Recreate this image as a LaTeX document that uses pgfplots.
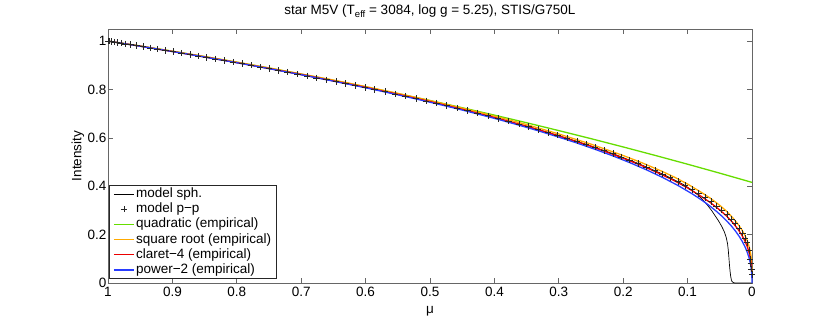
\documentclass[border=0pt]{standalone}
\usepackage{pgfplots}
\usepackage{pgfplotstable}
\pgfplotsset{compat=1.18}
\usepackage{fontspec}
\setmainfont{Liberation Sans}
\definecolor{cgreen}{RGB}{102,221,0}
\definecolor{corange}{RGB}{255,170,0}
\definecolor{cred}{RGB}{235,0,0}
\definecolor{cblue}{RGB}{40,60,255}
\newcommand{\fs}{\fontsize{13.5}{16}\selectfont}

% model plane-parallel (crosses)
\pgfplotstableread{
mu I
1.000 1.000
0.998 0.9992
0.995 0.9979
0.991 0.9962
0.986 0.9941
0.980 0.9916
0.973 0.9886
0.965 0.9851
0.956 0.9813
0.946 0.9770
0.935 0.9722
0.923 0.9669
0.911 0.9616
0.899 0.9563
0.886 0.9504
0.873 0.9446
0.860 0.9386
0.847 0.9326
0.834 0.9266
0.820 0.9200
0.806 0.9134
0.792 0.9067
0.778 0.9000
0.764 0.8931
0.750 0.8862
0.736 0.8792
0.721 0.8716
0.706 0.8640
0.691 0.8562
0.676 0.8484
0.661 0.8404
0.646 0.8323
0.631 0.8242
0.616 0.8159
0.601 0.8075
0.586 0.8000
0.570 0.7911
0.554 0.7819
0.538 0.7726
0.522 0.7629
0.506 0.7532
0.490 0.7433
0.474 0.7334
0.458 0.7232
0.442 0.7128
0.426 0.7023
0.410 0.6915
0.394 0.6804
0.378 0.6690
0.362 0.6574
0.347 0.6462
0.332 0.6347
0.317 0.6229
0.302 0.6108
0.287 0.5985
0.272 0.5859
0.258 0.5738
0.244 0.5612
0.230 0.5482
0.216 0.5348
0.203 0.5218
0.190 0.5084
0.177 0.4946
0.164 0.4802
0.151 0.4650
0.139 0.4505
0.127 0.4351
0.115 0.4190
0.104 0.4032
0.093 0.3866
0.083 0.3703
0.073 0.3531
0.064 0.3366
0.055 0.3190
0.047 0.3018
0.039 0.2833
0.032 0.2650
0.026 0.2471
0.020 0.2264
0.015 0.2064
0.011 0.1865
0.008 0.1666
0.005 0.1350
0.003 0.1000
0.002 0.0800
0.001 0.0580
0.000 0.0350
}\pp

% model spherical
\pgfplotstableread{
mu I
1.000 1.000
0.980 0.9916
0.956 0.9813
0.923 0.9669
0.886 0.9504
0.847 0.9326
0.806 0.9134
0.764 0.8931
0.721 0.8716
0.676 0.8484
0.631 0.8242
0.586 0.8000
0.538 0.7726
0.490 0.7433
0.442 0.7128
0.394 0.6804
0.347 0.6462
0.302 0.6108
0.258 0.5738
0.216 0.5348
0.177 0.4946
0.139 0.4505
0.115 0.4190
0.104 0.4032
0.093 0.3830
0.083 0.3620
0.075 0.3400
0.068 0.3180
0.062 0.2970
0.057 0.2770
0.052 0.2570
0.047 0.2340
0.043 0.2120
0.040 0.1880
0.038 0.1630
0.037 0.1400
0.036 0.1100
0.035 0.0750
0.034 0.0470
0.033 0.0260
0.032 0.0130
0.031 0.0060
0.029 0.0020
0.027 0.0000
0.000 0.0000
}\sph

% quadratic
\pgfplotstableread{
mu I
1.00 1.0000
0.95 0.9796
0.90 0.9583
0.85 0.9360
0.80 0.9128
0.75 0.8887
0.70 0.8637
0.65 0.8377
0.60 0.8108
0.55 0.7830
0.50 0.7543
0.45 0.7246
0.40 0.6940
0.35 0.6625
0.30 0.6300
0.25 0.5967
0.20 0.5624
0.15 0.5272
0.10 0.4911
0.05 0.4540
0.00 0.4160
}\quadr

% square root, claret-4
\pgfplotstableread{
mu sqr cl
1.000 1.000 1.000
0.950 0.9795 0.9790
0.900 0.958 0.957
0.850 0.936 0.9345
0.800 0.913 0.911
0.750 0.889 0.8867
0.700 0.864 0.862
0.650 0.839 0.8355
0.600 0.812 0.809
0.550 0.784 0.7800
0.500 0.754 0.750
0.450 0.723 0.718
0.400 0.690 0.684
0.350 0.655 0.648
0.300 0.616 0.608
0.250 0.574 0.565
0.200 0.527 0.516
0.170 0.496 0.484
0.140 0.462 0.448
0.120 0.437 0.422
0.100 0.409 0.393
0.080 0.377 0.360
0.065 0.351 0.333
0.050 0.321 0.302
0.040 0.298 0.278
0.030 0.270 0.250
0.022 0.244 0.223
0.016 0.221 0.199
0.011 0.197 0.174
0.007 0.172 0.148
0.004 0.146 0.120
0.002 0.120 0.092
0.001 0.100 0.070
0.000 0.050 0.020
}\emp

% power-2
\pgfplotstableread{
mu I
1.000 1.000
0.991 0.9962
0.980 0.9916
0.965 0.9851
0.946 0.9770
0.923 0.9669
0.899 0.9563
0.873 0.9446
0.847 0.9326
0.820 0.9200
0.792 0.9067
0.764 0.8931
0.736 0.8792
0.706 0.8640
0.676 0.8484
0.646 0.8323
0.616 0.8159
0.586 0.7990
0.554 0.7803
0.522 0.7610
0.490 0.7411
0.458 0.7204
0.426 0.6988
0.394 0.6763
0.362 0.6526
0.332 0.6293
0.302 0.6048
0.272 0.5788
0.244 0.5530
0.216 0.5254
0.190 0.4978
0.164 0.4680
0.139 0.4366
0.115 0.4032
0.093 0.3688
0.083 0.3516
0.073 0.3331
0.064 0.3152
0.055 0.2958
0.047 0.2769
0.039 0.2560
0.032 0.2356
0.026 0.2159
0.020 0.1934
0.015 0.1714
0.011 0.1505
0.008 0.1316
0.005 0.1080
0.003 0.0872
0.002 0.0735
0.001 0.0550
0.0005 0.0410
0.0002 0.0280
0.000 0.0000
}\pow

\begin{document}
\begin{tikzpicture}
\useasboundingbox (-108pt,-36pt) rectangle (722pt,283pt);
\begin{axis}[
  at={(0,0)}, anchor=south west,
  scale only axis, width=644pt, height=254pt,
  xmin=0, xmax=1, ymin=0, ymax=1.05, x dir=reverse,
  clip=false,
  xtick={0,0.1,0.2,0.3,0.4,0.5,0.6,0.7,0.8,0.9,1},
  ytick={0,0.2,0.4,0.6,0.8,1},
  /pgf/number format/assume math mode=true,
  tick align=inside, major tick length=5pt,
  axis line style={black!60, line width=0.8pt},
  tick style={black!60, line width=0.6pt},
  tick label style={font=\fs},
  yticklabel style={inner xsep=1.5pt},
  xticklabel style={inner ysep=4pt},
  label style={font=\fs},
  xlabel={μ},
  xlabel style={at={(axis description cs:0.5,0)}, anchor=base, yshift=-30pt},
  ylabel={Intensity},
  ylabel style={at={(axis description cs:-0.0466,0.5)}, anchor=center, rotate=0},
  every axis title shift=0pt,
  title={star M5V (T\raisebox{-0.45ex}{\fontsize{9.5}{10}\selectfont eff} = 3084, log g = 5.25), STIS/G750L},
  title style={font=\fs, at={(axis description cs:0.5,1)}, anchor=base, yshift=15pt},
  legend cell align=left,
  legend image code/.code={\draw[mark repeat=2,mark phase=2,#1] plot coordinates {(0pt,0pt) (10pt,0pt) (20pt,0pt)};},
  legend style={at={(axis description cs:0.0015,0.016)}, anchor=south west,
    draw=black!85, line width=0.6pt, fill=white, font=\fs,
    inner xsep=4pt, inner ysep=1pt, row sep=0pt,
    nodes={inner xsep=1.5pt, inner ysep=1.2pt, text height=9.8pt, text depth=3pt}},
]
\addplot[black, line width=0.7pt] table[x=mu, y=I] {\sph};
\addlegendentry{model sph.}
\addplot[only marks, mark=+, mark size=3.2pt, black!85, mark options={line width=0.5pt}] table[x=mu, y=I] {\pp};
\addlegendentry{model p−p}
\addplot[cgreen, line width=1.3pt] table[x=mu, y=I] {\quadr};
\addlegendentry{quadratic (empirical)}
\addplot[corange, line width=1.3pt] table[x=mu, y=sqr] {\emp};
\addlegendentry{square root (empirical)}
\addplot[cred, line width=1.3pt] table[x=mu, y=cl] {\emp};
\addlegendentry{claret−4 (empirical)}
\addplot[cblue, line width=1.3pt] table[x=mu, y=I] {\pow};
\addlegendentry{power−2 (empirical)}
\end{axis}
\end{tikzpicture}
\end{document}
